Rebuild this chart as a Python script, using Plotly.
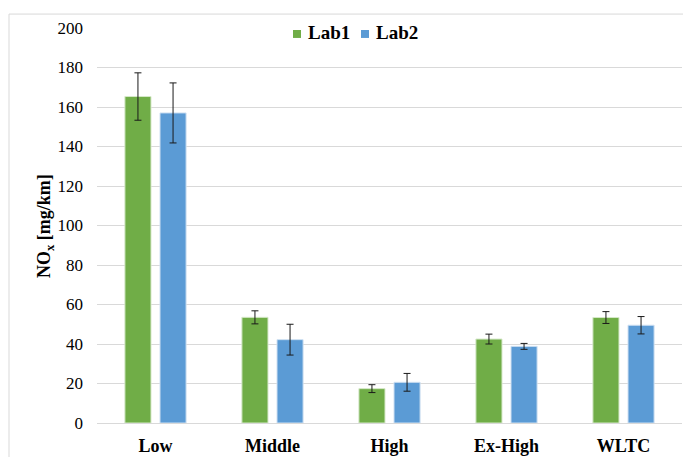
import plotly.graph_objects as go

# NOx emissions per WLTC phase for two laboratories
phases = ["Low", "Middle", "High", "Ex-High", "WLTC"]
lab1 = [165.3, 53.5, 17.4, 42.5, 53.4]
lab1_err = [12.0, 3.3, 2.0, 2.5, 3.0]
lab2 = [157.0, 42.2, 20.6, 38.8, 49.5]
lab2_err = [15.2, 7.8, 4.5, 1.5, 4.4]
series_names = ["Lab1", "Lab2"]
y_ticks = [0, 20, 40, 60, 80, 100, 120, 140, 160, 180, 200]

W, H = 683, 457
L, R, T, B = 97, 1, 28, 32
serif = "'Times New Roman', 'Liberation Serif', serif"
colors = ["#70AD47", "#5B9BD5"]
edges = ["#D5E8C8", "#CFE0F2"]

pw = W - L - R
ph = H - T - B


def px_x(px):
    return (px - L) / pw


def px_y(py):
    return (H - B - py) / ph


fig = go.Figure()
for name, vals, errs, color, edge in zip(
        series_names, [lab1, lab2], [lab1_err, lab2_err], colors, edges):
    fig.add_trace(go.Bar(
        name=name, x=phases, y=vals,
        marker=dict(color=color, line=dict(color=edge, width=1)),
        error_y=dict(type="data", array=errs, visible=True,
                     color="#1a1a1a", thickness=1, width=3.5),
    ))

# outer chart frame (top and left edges)
fig.add_shape(type="line", xref="paper", yref="paper",
              x0=px_x(9), x1=1.05, y0=px_y(14), y1=px_y(14),
              line=dict(color="#d9d9d9", width=1), layer="below")
fig.add_shape(type="line", xref="paper", yref="paper",
              x0=px_x(9), x1=px_x(9), y0=px_y(14), y1=-0.2,
              line=dict(color="#d9d9d9", width=1), layer="below")

# legend: white box over the top gridline, small squares and bold labels
fig.add_shape(type="rect", xref="paper", yref="paper",
              x0=px_x(279), x1=px_x(425), y0=px_y(44), y1=px_y(21),
              fillcolor="white", line=dict(width=0), layer="above")
for i, (name, color) in enumerate(zip(series_names, colors)):
    sx = 293 + i * 68
    fig.add_shape(type="rect", xref="paper", yref="paper",
                  x0=px_x(sx), x1=px_x(sx + 8), y0=px_y(38), y1=px_y(30),
                  fillcolor=color, line=dict(width=0), layer="above")
    fig.add_annotation(
        text=f"<b>{name}</b>", xref="paper", yref="paper",
        x=px_x(sx + 13), y=px_y(33), xanchor="left", yanchor="middle",
        showarrow=False, font=dict(family=serif, size=19, color="#000"),
    )

fig.add_annotation(
    text="<b>NO<sub>x</sub> [mg/km]</b>", textangle=-90,
    xref="paper", yref="paper", x=px_x(46), y=px_y(227),
    xanchor="center", yanchor="middle",
    showarrow=False, font=dict(family=serif, size=18, color="#000"),
)

fig.update_layout(
    width=W, height=H,
    margin=dict(l=L, r=R, t=T, b=B),
    paper_bgcolor="white", plot_bgcolor="white",
    font=dict(family=serif, color="#000"),
    barmode="group", bargap=0.40, bargroupgap=0.257,
    showlegend=False,
    xaxis=dict(
        showgrid=False, showline=True, linecolor="#d9d9d9", linewidth=1,
        ticks="", tickfont=dict(family=serif, size=18, color="#000"),
        tickprefix="<b>", ticksuffix="</b>", ticklabelstandoff=6,
    ),
    yaxis=dict(
        range=[0, 200], tickvals=y_ticks,
        showgrid=True, gridcolor="#d9d9d9", gridwidth=1,
        zeroline=False, showline=False, ticks="",
        tickfont=dict(family=serif, size=17, color="#000"),
        ticklabelstandoff=13,
    ),
)

fig.write_html("out.html")
